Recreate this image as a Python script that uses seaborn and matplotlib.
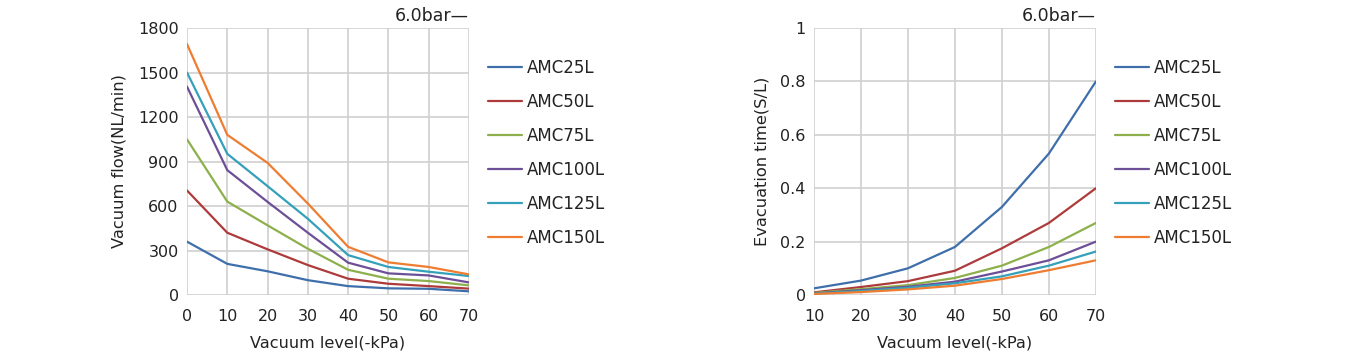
import matplotlib
matplotlib.use('Agg')
import matplotlib.pyplot as plt
import seaborn as sns
import pandas as pd

models = ['AMC25L', 'AMC50L', 'AMC75L', 'AMC100L', 'AMC125L', 'AMC150L']
colors = ['#3F6FAA', '#AE3B3B', '#8DB04C', '#6D4F97', '#34A0BA', '#EE7D31']

# vakuumski pretok (NL/min) pri 0..70 -kPa
flow_levels = [0, 10, 20, 30, 40, 50, 60, 70]
flow_25 = [360, 210, 160, 100, 60, 45, 42, 25]
flow_50 = [705, 420, 308, 202, 110, 76, 60, 43]
flow_75 = [1050, 630, 470, 312, 170, 110, 94, 65]
flow_100 = [1405, 842, 628, 420, 218, 146, 132, 85]
flow_125 = [1500, 952, 734, 514, 269, 189, 157, 128]
flow_150 = [1692, 1080, 891, 617, 325, 220, 189, 139]

# cas evakuacije (S/L) pri 10..70 -kPa
time_levels = [10, 20, 30, 40, 50, 60, 70]
time_25 = [0.025, 0.054, 0.10, 0.18, 0.33, 0.53, 0.80]
time_50 = [0.010, 0.030, 0.052, 0.091, 0.175, 0.27, 0.40]
time_75 = [0.008, 0.022, 0.037, 0.064, 0.11, 0.18, 0.27]
time_100 = [0.006, 0.018, 0.031, 0.050, 0.088, 0.13, 0.20]
time_125 = [0.005, 0.015, 0.027, 0.044, 0.070, 0.11, 0.163]
time_150 = [0.004, 0.011, 0.021, 0.035, 0.060, 0.093, 0.13]

flows = [flow_25, flow_50, flow_75, flow_100, flow_125, flow_150]
times = [time_25, time_50, time_75, time_100, time_125, time_150]

df_flow = pd.DataFrame([(m, x, y) for m, ys in zip(models, flows) for x, y in zip(flow_levels, ys)],
                       columns=['model', 'level', 'value'])
df_time = pd.DataFrame([(m, x, y) for m, ys in zip(models, times) for x, y in zip(time_levels, ys)],
                       columns=['model', 'level', 'value'])

sns.set_style('white')
plt.rcParams['font.family'] = ['DejaVu Sans']
txt = '#222222'

fig = plt.figure(figsize=(13.53, 3.56), dpi=100)
ax1 = fig.add_axes([0.1382, 0.1713, 0.2084, 0.75])
ax2 = fig.add_axes([0.6016, 0.1713, 0.2084, 0.75])

palette = dict(zip(models, colors))

def draw(ax, df, xticks, yticks, ylim, ylabel, yfmt, legend_x):
    sns.lineplot(data=df, x='level', y='value', hue='model', palette=palette,
                 hue_order=models, linewidth=1.6, ax=ax)
    ax.set_xlim(xticks[0], xticks[-1])
    ax.set_ylim(*ylim)
    ax.set_xticks(xticks)
    ax.set_yticks(yticks)
    ax.set_yticklabels([yfmt(v) for v in yticks])
    ax.grid(True, color='#D0D0D0', linewidth=1.2)
    ax.set_axisbelow(True)
    for s in ax.spines.values():
        s.set_visible(False)
    ax.tick_params(length=0, labelsize=11.5, colors=txt)
    ax.tick_params(axis='x', pad=10)
    ax.tick_params(axis='y', pad=6)
    ax.set_xlabel('Vacuum level(-kPa)', fontsize=11.6, color=txt, labelpad=8)
    ax.set_ylabel(ylabel, fontsize=11.7, color=txt, labelpad=8)
    ax.text(1.0, 1.012, '6.0bar—', transform=ax.transAxes, ha='right', va='bottom',
            fontsize=12.5, color=txt)
    leg = ax.legend(loc='upper left', bbox_to_anchor=(legend_x, 0.94), frameon=False,
                    fontsize=12, handlelength=2.05, handletextpad=0.3, labelspacing=0.96)
    for t in leg.get_texts():
        t.set_color(txt)

draw(ax1, df_flow, flow_levels, [0, 300, 600, 900, 1200, 1500, 1800], (0, 1800),
     'Vacuum flow(NL/min)', lambda v: f'{v:d}', 1.015)
draw(ax2, df_time, time_levels, [0, 0.2, 0.4, 0.6, 0.8, 1.0], (0, 1.0),
     'Evacuation time(S/L)', lambda v: '0' if v == 0 else ('1' if v == 1 else f'{v:.1f}'), 1.015)

fig.savefig('out.png', dpi=100)
